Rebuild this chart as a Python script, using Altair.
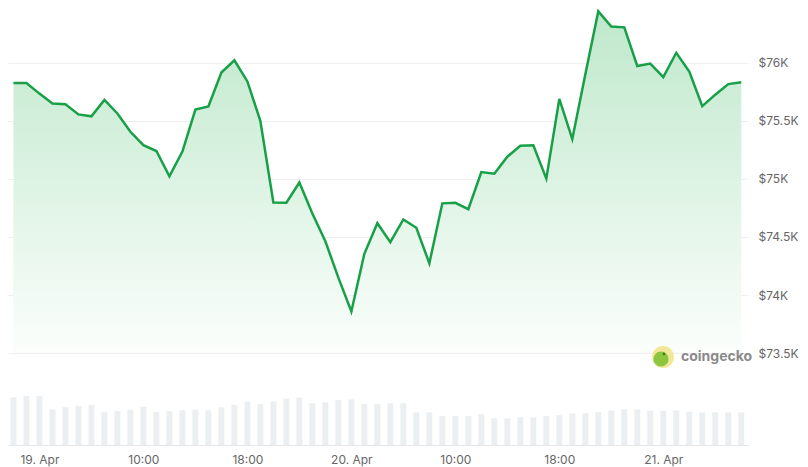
import altair as alt
import pandas as pd

# hourly samples, first one at 18 Apr 22:00 UTC
start_time = "2025-04-18T22:00:00Z"

prices = [
    75827, 75827, 75736, 75650, 75645, 75557, 75540, 75682, 75565, 75407,
    75292, 75241, 75023, 75236, 75599, 75625, 75918, 76023, 75841, 75500,
    74798, 74795, 74970, 74702, 74463, 74150, 73858, 74355, 74619, 74455,
    74651, 74580, 74273, 74790, 74795, 74740, 75060, 75045, 75192, 75287,
    75290, 75003, 75690, 75344, 75900, 76445, 76315, 76307, 75974, 75995,
    75878, 76088, 75926, 75628, 75727, 75818, 75833,
]

# 24h volume, billions USD
volumes = [
    23.85, 24.5, 24.5, 17.85, 19.0, 19.5, 20.0, 16.5, 17.0, 17.65,
    19.15, 16.5, 17.0, 17.35, 17.65, 17.35, 18.85, 20.0, 21.65, 20.5,
    21.85, 23.15, 23.65, 20.85, 21.35, 22.5, 22.85, 20.5, 20.5, 20.85,
    20.85, 16.35, 16.35, 14.5, 14.5, 14.5, 15.35, 13.35, 13.35, 14.0,
    13.85, 14.5, 15.0, 15.85, 15.85, 16.5, 17.15, 17.85, 17.85, 17.15,
    17.15, 17.35, 16.65, 16.35, 16.35, 16.35, 16.35,
]

price_ticks = [73500, 74000, 74500, 75000, 75500, 76000, 76500]

df = pd.DataFrame({
    "time": pd.date_range(start_time, periods=len(prices), freq="h").strftime("%Y-%m-%dT%H:%M:%SZ"),
    "price": prices,
    "volume": volumes,
})

x_ticks = [alt.DateTime(year=2025, month=4, date=d, hours=h, utc=True)
           for d, h in [(19, 0), (19, 8), (19, 16), (20, 0), (20, 8), (20, 16), (21, 0)]]

x_enc = alt.X(
    "time:T",
    title=None,
    scale=alt.Scale(
        type="utc",
        domain=[alt.DateTime(year=2025, month=4, date=18, hours=21, minutes=58, utc=True),
                alt.DateTime(year=2025, month=4, date=21, hours=6, minutes=8, utc=True)],
    ),
    axis=alt.Axis(
        values=x_ticks,
        labelExpr="utchours(datum.value) == 0 ? utcFormat(datum.value, '%d. %b') : utcFormat(datum.value + 7200000, '%H:%M')",
        grid=False, ticks=False, domain=True, domainColor="#e6e6e6",
        labelColor="#666666", labelFontSize=12, labelPadding=9,
    ),
)

price_scale = alt.Scale(domain=[72707, 76474], nice=False, zero=False)

y_price = alt.Y(
    "price:Q",
    title=None,
    scale=price_scale,
    axis=alt.Axis(
        orient="right", values=price_ticks,
        labelExpr="'$' + format(datum.value / 1000, '.1~f') + 'K'",
        grid=True, gridColor="#eeeeee", domain=False, ticks=False,
        labelColor="#666666", labelFontSize=12, labelPadding=10,
    ),
)

fill = alt.Gradient(
    gradient="linear",
    stops=[alt.GradientStop(color="#fbfefc", offset=0),
           alt.GradientStop(color="#bfe8cb", offset=1)],
    x1=1, x2=1, y1=1, y2=0,
)

base = alt.Chart(df)

bars = base.mark_bar(size=6, color="#eceff2").encode(
    x=x_enc,
    y=alt.Y("volume:Q", axis=None, scale=alt.Scale(domain=[0, 218.5], nice=False)),
)

area = base.mark_area(color=fill).encode(
    x=x_enc,
    y=y_price,
    y2=alt.datum(73500),
)

line = base.mark_line(color="#18a048", strokeWidth=2.5).encode(
    x=x_enc,
    y=y_price,
)

# coingecko watermark
logo_ring = alt.Chart().mark_point(filled=True, color="#f0e68c", size=480, opacity=0.9).encode(
    x=alt.value(655), y=alt.value(349))
logo_head = alt.Chart().mark_point(filled=True, color="#8cc63f", size=230, opacity=1).encode(
    x=alt.value(653), y=alt.value(351))
logo_eye = alt.Chart().mark_point(filled=True, color="#2f5f1a", size=8).encode(
    x=alt.value(656), y=alt.value(346))
logo_text = alt.Chart().mark_text(
    text="coingecko", align="left", baseline="middle", font="Inter",
    fontSize=14, fontWeight="bold", color="#8a8a8a",
).encode(x=alt.value(673), y=alt.value(349))

price_layer = alt.layer(area, line)

chart = alt.layer(
    bars, price_layer, logo_ring, logo_head, logo_eye, logo_text
).resolve_scale(
    y="independent"
).properties(
    width=740,
    height=437,
    autosize=alt.AutoSizeParams(type="none"),
    padding={"left": 0, "top": 0, "right": 52, "bottom": 22},
).configure(
    font="Inter",
).configure_view(
    stroke=None,
)

chart.save("out.html", embed_options={"renderer": "svg", "actions": False})
